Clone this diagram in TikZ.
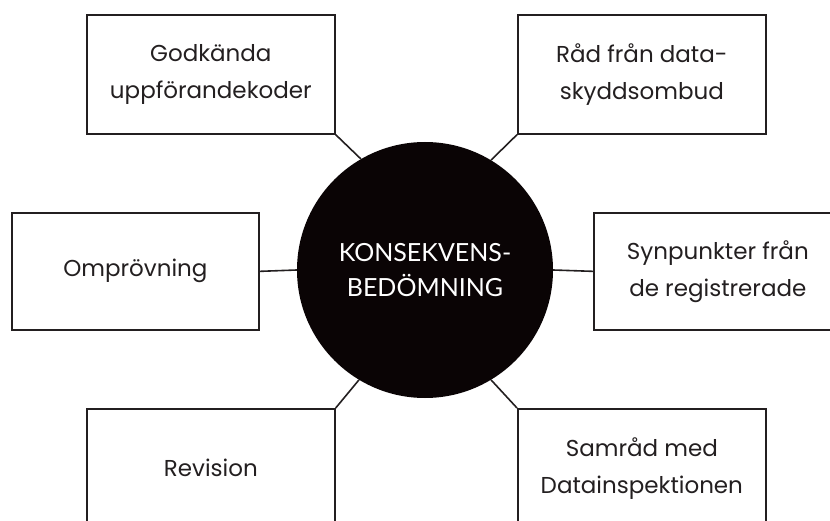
\documentclass[tikz,border=0pt]{standalone}
\usepackage{fontspec}
\setmainfont{Poppins}
\newfontfamily\circfont{Lato}
\definecolor{ink}{HTML}{231F20}
\definecolor{disc}{HTML}{0A0405}
\begin{document}
\begin{tikzpicture}[x=1pt,y=-1pt,
  box/.style={draw=ink, line width=1.7pt, minimum width=248pt, minimum height=119pt,
    align=center, font=\fontsize{23}{37}\selectfont, text=ink, inner sep=0pt, anchor=north west},
  link/.style={draw=ink, line width=1.6pt},
  hub/.style={circle, fill=disc, minimum size=256pt, inner sep=0pt, text=white,
    align=center, font=\circfont\fontsize{25}{35}\selectfont}]
\useasboundingbox (0,0) rectangle (830,521);
\clip (0,0) rectangle (830,521);
\node[hub] (c) at (425,270) {KONSEKVENS-\\BEDÖMNING};
\node[box] (tl) at (86,14) {Godkända\\uppförandekoder};
\node[box] (tr) at (517,14) {Råd från data-\\skyddsombud};
\node[box, minimum width=247pt, minimum height=117pt] (ml) at (11,212) {Omprövning};
\node[box, minimum height=117pt] (mr) at (593,212) {Synpunkter från\\de registrerade};
\node[box] (bl) at (86,408) {Revision};
\node[box] (br) at (517,408) {Samråd med\\Datainspektionen};
\draw[link] (tl.south east) -- (c.120);
\draw[link] (tr.south west) -- (c.59);
\draw[link] (ml.east) -- (c.west);
\draw[link] (c.east) -- (mr.west);
\draw[link] (bl.north east) -- (c.239);
\draw[link] (br.north west) -- (c.301);
\end{tikzpicture}
\end{document}
